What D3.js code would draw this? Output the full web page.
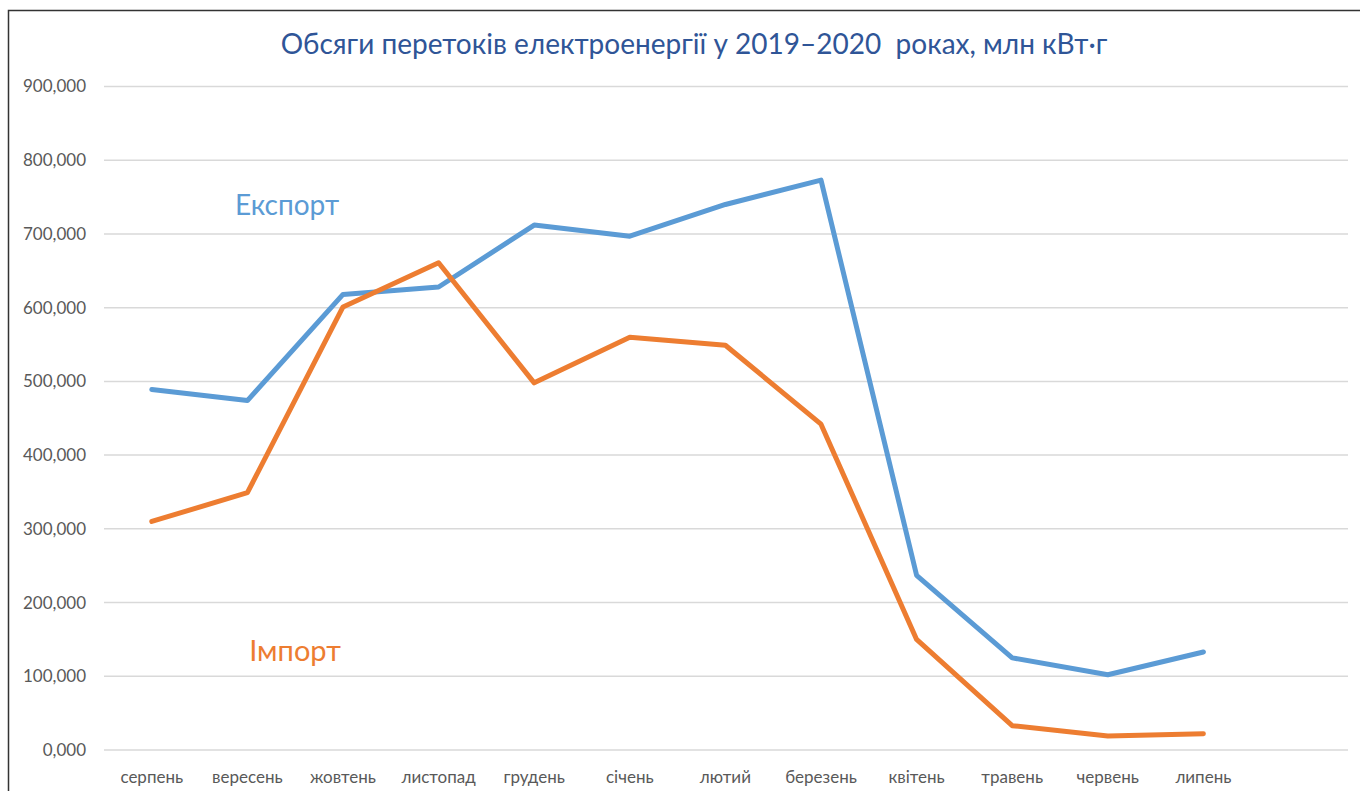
<!DOCTYPE html>
<meta charset="utf-8">
<script src="https://cdn.jsdelivr.net/npm/d3@7"></script>
<style>
body { margin: 0; background: #fff; }
text { font-family: Lato, "Open Sans", sans-serif; }
.grid line { stroke: #d9d9d9; stroke-width: 1.5px; }
.tick-label { fill: #595959; font-size: 17px; }
</style>
<body>
<script>

var months = ["серпень", "вересень", "жовтень", "листопад", "грудень", "січень",
              "лютий", "березень", "квітень", "травень", "червень", "липень"];
var exportVals = [489, 474, 618, 628, 712, 697, 740, 773, 237, 125, 102, 133];
var importVals = [310, 349, 601, 661, 498, 560, 549, 442, 150, 33, 19, 22];
var yTicks = [0, 100, 200, 300, 400, 500, 600, 700, 800, 900];

var width = 1360,
    height = 791;

var svg = d3.select("body").append("svg")
    .attr("width", width)
    .attr("height", height);

// frame (left and top edges of the cropped slide)
svg.append("path")
    .attr("d", "M8.5," + height + "V10.5H" + width)
    .attr("fill", "none")
    .attr("stroke", "#333")
    .attr("stroke-width", 1.5);

var x = d3.scaleBand()
    .domain(months)
    .range([104, 104 + 12 * 95.6]);

var y = d3.scaleLinear()
    .domain([0, 900])
    .range([750, 86.5]);

// gridlines
svg.append("g")
    .attr("class", "grid")
    .selectAll("line")
    .data(yTicks)
    .enter().append("line")
    .attr("x1", 104)
    .attr("x2", 1348)
    .attr("y1", function(d) { return y(d); })
    .attr("y2", function(d) { return y(d); });

// y labels
svg.append("g")
    .selectAll("text")
    .data(yTicks)
    .enter().append("text")
    .attr("class", "tick-label")
    .attr("x", 86)
    .attr("y", function(d) { return y(d); })
    .attr("dy", "0.35em")
    .attr("text-anchor", "end")
    .text(function(d) { return d === 0 ? "0,000" : d3.format(",")(d * 1000); });

// x labels
svg.append("g")
    .selectAll("text")
    .data(months)
    .enter().append("text")
    .attr("class", "tick-label")
    .attr("x", function(d) { return x(d) + x.bandwidth() / 2; })
    .attr("y", 777)
    .attr("dy", "0.35em")
    .attr("text-anchor", "middle")
    .text(function(d) { return d; });

var line = d3.line()
    .x(function(d, i) { return x(months[i]) + x.bandwidth() / 2; })
    .y(function(d) { return y(d); });

var series = [
  {values: exportVals, color: "#5b9bd5"},
  {values: importVals, color: "#ed7d31"}
];

svg.append("g")
    .selectAll("path")
    .data(series)
    .enter().append("path")
    .attr("fill", "none")
    .attr("stroke", function(d) { return d.color; })
    .attr("stroke-width", 5)
    .attr("stroke-linejoin", "round")
    .attr("stroke-linecap", "round")
    .attr("d", function(d) { return line(d.values); });

// series labels
svg.append("text")
    .attr("x", 287)
    .attr("y", 205)
    .attr("dy", "0.35em")
    .attr("text-anchor", "middle")
    .style("font-size", "28px")
    .style("fill", "#5b9bd5")
    .text("Експорт");

svg.append("text")
    .attr("x", 295)
    .attr("y", 651)
    .attr("dy", "0.35em")
    .attr("text-anchor", "middle")
    .style("font-size", "29px")
    .style("fill", "#ed7d31")
    .text("Імпорт");

// title
svg.append("text")
    .attr("x", 694)
    .attr("y", 44)
    .attr("dy", "0.35em")
    .attr("text-anchor", "middle")
    .style("font-size", "28px")
    .style("fill", "#2f5597")
    .style("white-space", "pre")
    .text("Обсяги перетоків електроенергії у 2019–2020  роках, млн кВт·г");

</script>
</body>
